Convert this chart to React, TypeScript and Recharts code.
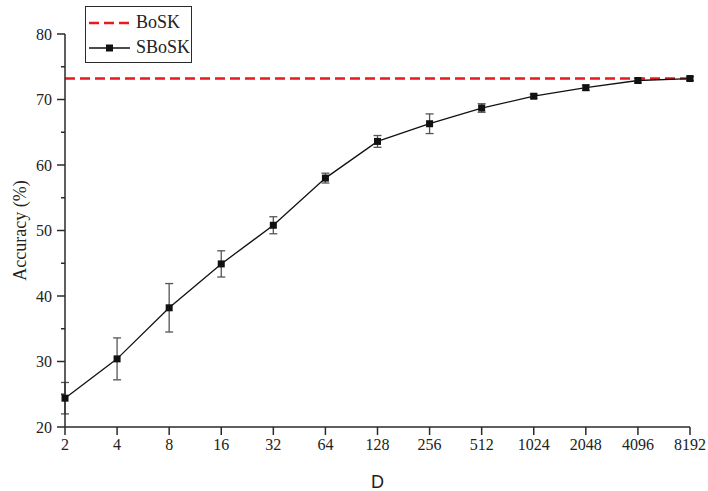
import React from 'react';
import { LineChart, Line, XAxis, YAxis, ErrorBar, Legend } from 'recharts';

const dims = ['2', '4', '8', '16', '32', '64', '128', '256', '512', '1024', '2048', '4096', '8192'];
const sboskAcc = [24.4, 30.4, 38.2, 44.9, 50.8, 58.0, 63.6, 66.3, 68.7, 70.5, 71.8, 72.9, 73.2];
const sboskErr = [2.4, 3.2, 3.7, 2.0, 1.3, 0.75, 0.9, 1.5, 0.65, 0.3, 0.4, 0.35, 0.3];
const boskAcc = 73.2;
const yTicks = [20, 25, 30, 35, 40, 45, 50, 55, 60, 65, 70, 75, 80];

const data = dims.map((d, i) => ({ d, sbosk: sboskAcc[i], err: sboskErr[i], bosk: boskAcc }));

const TICK_SIZE = 8;
const TICK_MARGIN = 5;
const SERIF = '"Liberation Serif", "Times New Roman", serif';
const AXIS = '#2a2a2a';

const YTick = (props: any) => {
  const { x, y, payload } = props;
  const major = payload.value % 10 === 0;
  const axisX = x + TICK_SIZE + TICK_MARGIN;
  return (
    <g>
      <line x1={axisX} x2={axisX - (major ? TICK_SIZE : 4)} y1={y} y2={y} stroke={AXIS} strokeWidth={1.5} />
      {major && (
        <text x={x} y={y} dy="0.35em" textAnchor="end" fontFamily={SERIF} fontSize={16} fill="#222">
          {payload.value}
        </text>
      )}
    </g>
  );
};

const SquareDot = (p: any) => (
  <rect key={`dot-${p.index}`} x={p.cx - 3.5} y={p.cy - 3.5} width={7} height={7} fill="#111" />
);

const LegendContent = () => (
  <div
    style={{
      border: `1px solid ${AXIS}`,
      background: '#fff',
      fontFamily: SERIF,
      fontSize: 18,
      color: '#222',
      padding: '3px 0 3px 2px',
      boxSizing: 'border-box',
      width: 107,
      height: 57,
    }}
  >
    <div style={{ display: 'flex', alignItems: 'center', height: 25 }}>
      <svg width={46} height={10}>
        <line x1={1} x2={44} y1={5} y2={5} stroke="#e8191f" strokeWidth={2.5} strokeDasharray="10 5" />
      </svg>
      <span style={{ marginLeft: 2 }}>BoSK</span>
    </div>
    <div style={{ display: 'flex', alignItems: 'center', height: 25 }}>
      <svg width={46} height={10}>
        <line x1={1} x2={42} y1={5} y2={5} stroke="#111" strokeWidth={1.3} />
        <rect x={18} y={1.5} width={7} height={7} fill="#111" />
      </svg>
      <span style={{ marginLeft: 2 }}>SBoSK</span>
    </div>
  </div>
);

export default function App() {
  return (
    <div style={{ position: 'absolute', left: 0, top: 0, background: '#fff' }}>
      <LineChart width={708} height={491} data={data} margin={{ top: 34, right: 18, bottom: 14, left: 15 }}>
        <XAxis
          dataKey="d"
          scale="point"
          padding={{ left: 0, right: 0 }}
          stroke={AXIS}
          strokeWidth={1.5}
          tickSize={8}
          tickMargin={4}
          tick={{ fontFamily: SERIF, fontSize: 16, fill: '#222' }}
          tickLine={{ stroke: AXIS, strokeWidth: 1.5 }}
          interval={0}
          height={50}
          label={{ value: 'D', position: 'insideBottom', offset: -11, fontFamily: '"Liberation Sans", Arial, sans-serif', fontSize: 18, fill: '#222' }}
        />
        <YAxis
          type="number"
          domain={[20, 80]}
          ticks={yTicks}
          interval={0}
          width={50}
          stroke={AXIS}
          strokeWidth={1.5}
          tickSize={TICK_SIZE}
          tickMargin={TICK_MARGIN}
          tickLine={false}
          tick={<YTick />}
          label={{ value: 'Accuracy (%)', angle: -90, position: 'center', dx: -20, fontFamily: SERIF, fontSize: 18, fill: '#222' }}
        />
        <Line
          dataKey="bosk"
          stroke="#e8191f"
          strokeWidth={2.5}
          strokeDasharray="10 5"
          dot={false}
          activeDot={false}
          isAnimationActive={false}
        />
        <Line
          dataKey="sbosk"
          stroke="#111"
          strokeWidth={1.3}
          dot={SquareDot}
          activeDot={false}
          isAnimationActive={false}
        >
          <ErrorBar dataKey="err" direction="y" width={4} stroke="#555" strokeWidth={1.3} />
        </Line>
        <Legend
          layout="vertical"
          align="center"
          verticalAlign="middle"
          wrapperStyle={{ left: 85, top: 6, width: 107, height: 57 }}
          content={<LegendContent />}
        />
      </LineChart>
    </div>
  );
}
